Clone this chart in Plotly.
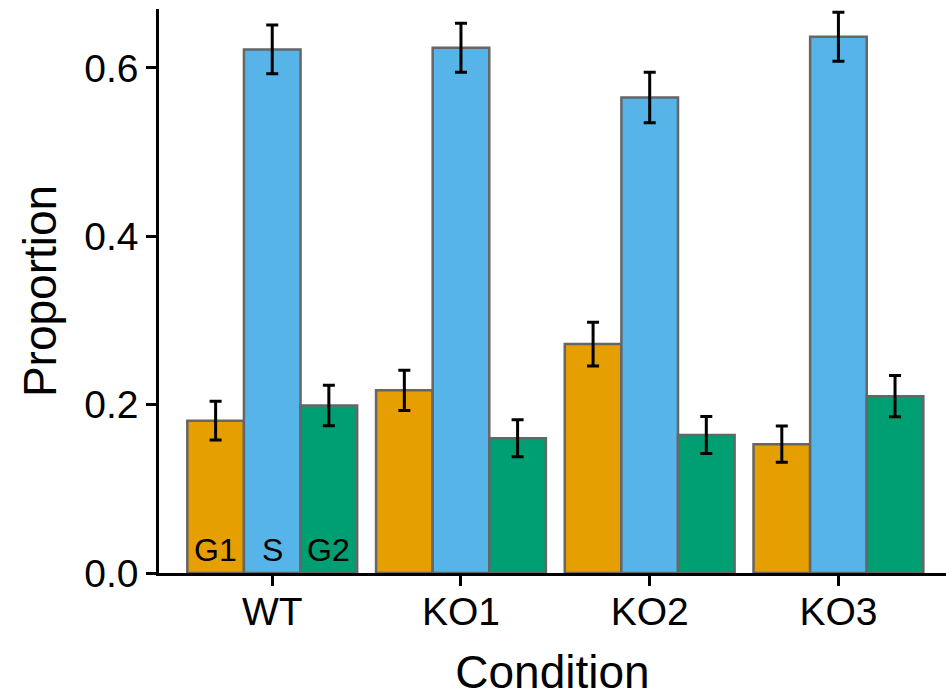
import plotly.graph_objects as go

conditions = ["WT", "KO1", "KO2", "KO3"]
phases = ["G1", "S", "G2"]
colors = {"G1": "#E69F00", "S": "#56B4E9", "G2": "#009E73"}

g1_vals = [0.181, 0.217, 0.272, 0.153]
g1_err = [0.023, 0.024, 0.026, 0.0215]
s_vals = [0.622, 0.624, 0.565, 0.637]
s_err = [0.029, 0.029, 0.030, 0.029]
g2_vals = [0.199, 0.160, 0.164, 0.210]
g2_err = [0.024, 0.022, 0.022, 0.0245]

series = {"G1": (g1_vals, g1_err), "S": (s_vals, s_err), "G2": (g2_vals, g2_err)}

FONT = "Liberation Sans, Arial, Helvetica, sans-serif"

fig = go.Figure()
for ph in phases:
    vals, errs = series[ph]
    fig.add_trace(go.Bar(
        name=ph, x=conditions, y=vals,
        marker=dict(color=colors[ph], line=dict(color="#666666", width=2.5)),
        error_y=dict(type="data", array=errs, visible=True, color="black",
                     thickness=3, width=6),
        showlegend=False,
    ))

# phase labels inside the first group of bars
offsets = [-0.3, 0.0, 0.3]
for ph, off in zip(phases, offsets):
    fig.add_annotation(x=0 + off, y=0, xref="x", yref="y", text=ph,
                       showarrow=False, yanchor="bottom", yshift=3,
                       font=dict(family=FONT, size=32, color="black"))

fig.update_layout(
    width=946, height=698,
    margin=dict(l=159, r=0, t=9, b=125),
    plot_bgcolor="white", paper_bgcolor="white",
    barmode="group", bargap=0.1, bargroupgap=0,
    font=dict(family=FONT, color="black"),
    xaxis=dict(
        range=[-0.6, 3.57], showline=True, linecolor="black", linewidth=2.5,
        ticks="outside", ticklen=10, tickwidth=2.5, tickcolor="black",
        ticklabelstandoff=-8,
        tickfont=dict(size=39, color="black"), showgrid=False, zeroline=False,
        title=dict(text="Condition", font=dict(size=46, color="black"), standoff=31),
    ),
    yaxis=dict(
        range=[0, 0.67], showline=True, linecolor="black", linewidth=2.5,
        ticks="outside", ticklen=10, tickwidth=2.5, tickcolor="black",
        tickvals=[0.0, 0.2, 0.4, 0.6], ticktext=["0.0", "0.2", "0.4", "0.6"],
        tickfont=dict(size=39, color="black"), showgrid=False, zeroline=False,
        title=dict(text="Proportion", font=dict(size=46, color="black"), standoff=14),
    ),
)

fig.write_html("out.html")
